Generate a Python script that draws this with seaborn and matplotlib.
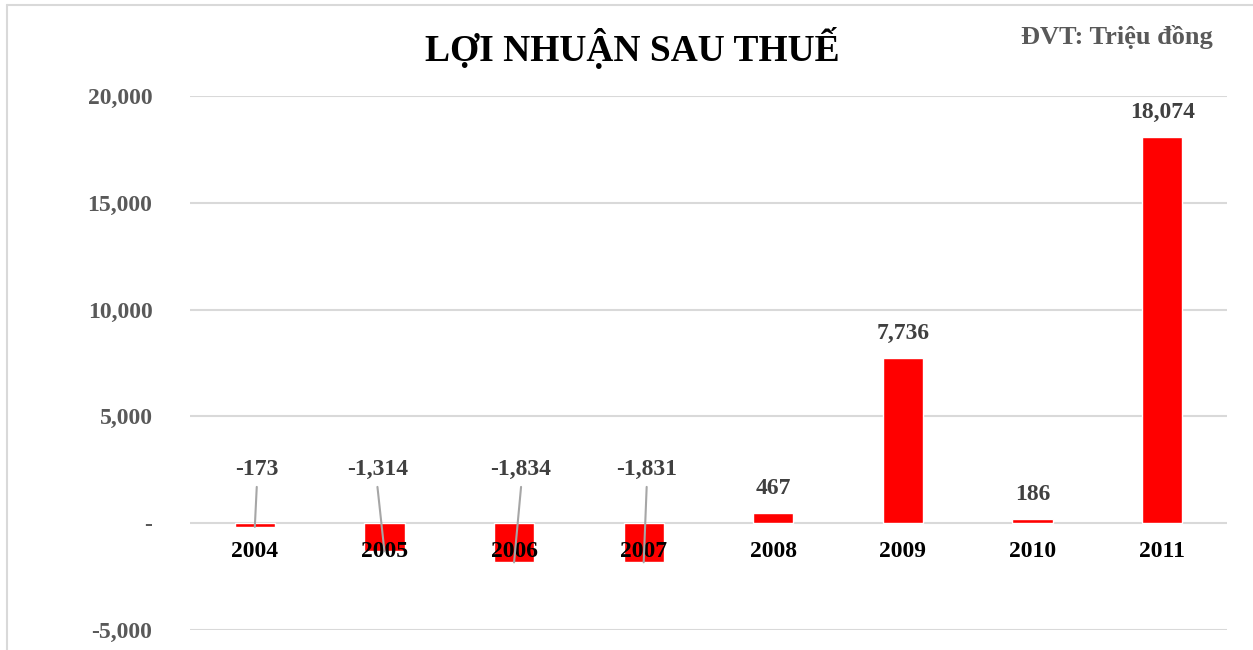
import matplotlib
matplotlib.use("Agg")
import matplotlib.pyplot as plt
from matplotlib.lines import Line2D
from matplotlib.ticker import FuncFormatter
import seaborn as sns
import pandas as pd

# data
years = ["2004", "2005", "2006", "2007", "2008", "2009", "2010", "2011"]
profit = [-173, -1314, -1834, -1831, 467, 7736, 186, 18074]
y_ticks = [-5000, 0, 5000, 10000, 15000, 20000]

title = "LỢI NHUẬN SAU THUẾ"
unit_note = "ĐVT: Triệu đồng"

sns.set_theme(style="white")
plt.rcParams["font.family"] = ["Liberation Serif", "DejaVu Serif"]
plt.rcParams["font.weight"] = "bold"

df = pd.DataFrame({"year": years, "profit": profit})

fig = plt.figure(figsize=(12.53, 6.5), dpi=100)
ax = fig.add_axes([190 / 1253, 20 / 650, 1037 / 1253, 534 / 650])

sns.barplot(data=df, x="year", y="profit", color="#ff0000", saturation=1,
            width=0.31, ax=ax)

ax.set_ylim(-5000, 20000)
ax.set_xlim(-0.5, len(years) - 0.5)
ax.set_yticks(y_ticks)
ax.yaxis.set_major_formatter(FuncFormatter(lambda v, p: "-" if v == 0 else f"{v:,.0f}"))
ax.tick_params(axis="y", length=0, pad=27, labelsize=17, labelcolor="#595959")
ax.tick_params(axis="x", length=0, labelbottom=False)
ax.grid(axis="y", color="#d9d9d9", linewidth=1.5)
ax.set_axisbelow(True)
for s in ax.spines.values():
    s.set_visible(False)
ax.set_xlabel("")
ax.set_ylabel("")
for lbl in ax.get_yticklabels():
    lbl.set_fontweight("bold")

# year labels sit just under the zero line
for i, yr in enumerate(years):
    ax.annotate(yr, (i, 0), xytext=(0, -28), textcoords="offset pixels",
                ha="center", va="center", fontsize=17, fontweight="bold", color="black")

# value labels; negative ones are lifted above zero with a leader line
nudge = [0.015, -0.054, 0.054, 0.023]
for i, v in enumerate(profit):
    txt = f"{v:,.0f}"
    if v >= 0:
        ax.annotate(txt, (i, v), xytext=(0, 25), textcoords="offset pixels",
                    ha="center", va="center", fontsize=17, fontweight="bold", color="#404040")
    else:
        lx = i + nudge[i]
        ax.annotate(txt, (lx, 0), xytext=(0, 54), textcoords="offset pixels",
                    ha="center", va="center", fontsize=17, fontweight="bold", color="#404040")
        ax.plot([lx, i], [1700, v], color="#a6a6a6", linewidth=1.5, zorder=5)

fig.text(632 / 1253, 1 - 48 / 650, title, ha="center", va="center",
         fontsize=27, fontweight="bold", color="black")
fig.text(1213 / 1253, 1 - 37 / 650, unit_note, ha="right", va="center",
         fontsize=19, fontweight="bold", color="#595959")

# chart-area border (left and top edges visible)
fig.add_artist(Line2D([7 / 1253, 7 / 1253], [0, 1 - 5 / 650], color="#d9d9d9",
                      linewidth=1.5, transform=fig.transFigure))
fig.add_artist(Line2D([7 / 1253, 1], [1 - 5 / 650, 1 - 5 / 650], color="#d9d9d9",
                      linewidth=1.5, transform=fig.transFigure))

fig.savefig("out.png", dpi=100)
